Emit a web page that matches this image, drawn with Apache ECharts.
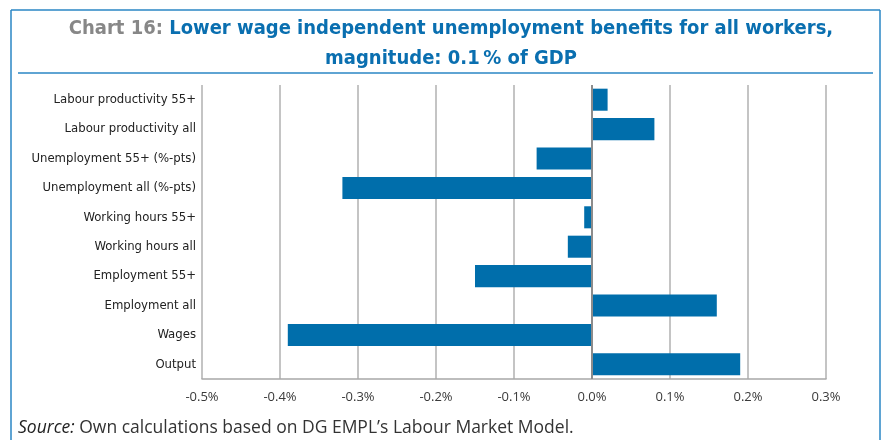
<!DOCTYPE html>
<html><head><meta charset="utf-8">
<script src="https://cdn.jsdelivr.net/npm/echarts@6/dist/echarts.min.js"></script>
<style>html,body{margin:0;padding:0;background:#fff}#c{width:882px;height:440px}</style>
</head><body><div id="c"></div>
<script>
const categories = ['Output','Wages','Employment all','Employment 55+','Working hours all','Working hours 55+','Unemployment all (%-pts)','Unemployment 55+ (%-pts)','Labour productivity all','Labour productivity 55+'];
const values = [0.19, -0.39, 0.16, -0.15, -0.031, -0.01, -0.32, -0.071, 0.08, 0.02];
const xMin = -0.5, xMax = 0.3, xStep = 0.1;
const titleGray = 'Chart 16: ';
const titleLine1 = 'Lower wage independent unemployment benefits for all workers,';
const titleLine2 = 'magnitude: 0.1\u2009% of GDP';
const sourceLabel = 'Source:';
const sourceText = ' Own calculations based on DG EMPL\u2019s Labour Market Model.';

const blue = '#006eab';
const frame = '#2a86c4';
const condensed = '"DejaVu Sans Condensed","Liberation Sans Narrow",sans-serif';
const chart = echarts.init(document.getElementById('c'));
chart.setOption({
  animation: false,
  backgroundColor: '#fff',
  title: {
    left: 446, top: 9, textAlign: 'center',
    text: '{g|' + titleGray + '}{b|' + titleLine1 + '}\n{b|' + titleLine2 + '}',
    textStyle: {
      lineHeight: 30,
      rich: {
        g: {color: '#878787', fontFamily: condensed, fontWeight: 'bold', fontSize: 20, lineHeight: 30},
        b: {color: '#0a6fb0', fontFamily: condensed, fontWeight: 'bold', fontSize: 20, lineHeight: 30}
      }
    }
  },
  grid: {left: 202, right: 56, top: 85, bottom: 61, containLabel: false},
  xAxis: {
    type: 'value', min: xMin, max: xMax, interval: xStep,
    axisLine: {show: true, onZero: false, lineStyle: {color: '#a8a8a8', width: 1.5}},
    axisTick: {show: false},
    splitLine: {show: true, lineStyle: {color: '#b0b0b0', width: 1.5}},
    axisLabel: {
      margin: 12, color: '#3a3a3a', fontFamily: '"Open Sans","Noto Sans",sans-serif', fontSize: 13,
      formatter: v => v.toFixed(1) + '%'
    }
  },
  yAxis: {
    type: 'category', data: categories,
    axisLine: {show: false}, axisTick: {show: false},
    axisLabel: {margin: 6, color: '#222', fontFamily: condensed, fontSize: 13}
  },
  series: [{
    type: 'bar', data: values, barCategoryGap: '25%',
    itemStyle: {color: blue},
    markLine: {
      silent: true, symbol: 'none', label: {show: false},
      lineStyle: {color: '#8c8c8c', width: 2, type: 'solid'},
      data: [{xAxis: 0}]
    }
  }],
  graphic: [
    {type: 'line', shape: {x1: 11, y1: 10, x2: 880, y2: 10}, style: {stroke: frame, lineWidth: 1.5}},
    {type: 'line', shape: {x1: 11, y1: 10, x2: 11, y2: 440}, style: {stroke: frame, lineWidth: 1.5}},
    {type: 'line', shape: {x1: 880, y1: 10, x2: 880, y2: 440}, style: {stroke: frame, lineWidth: 1.5}},
    {type: 'line', shape: {x1: 18, y1: 73, x2: 873, y2: 73}, style: {stroke: frame, lineWidth: 1.5}},
    {type: 'text', left: 18, top: 419, style: {
      text: '{i|' + sourceLabel + '}{n|' + sourceText + '}',
      rich: {
        i: {fontStyle: 'italic', fontFamily: '"Open Sans","Noto Sans",sans-serif', fontSize: 17.5, fill: '#222'},
        n: {fontFamily: '"Open Sans","Noto Sans",sans-serif', fontSize: 17.5, fill: '#333'}
      }
    }}
  ]
});
</script></body></html>
